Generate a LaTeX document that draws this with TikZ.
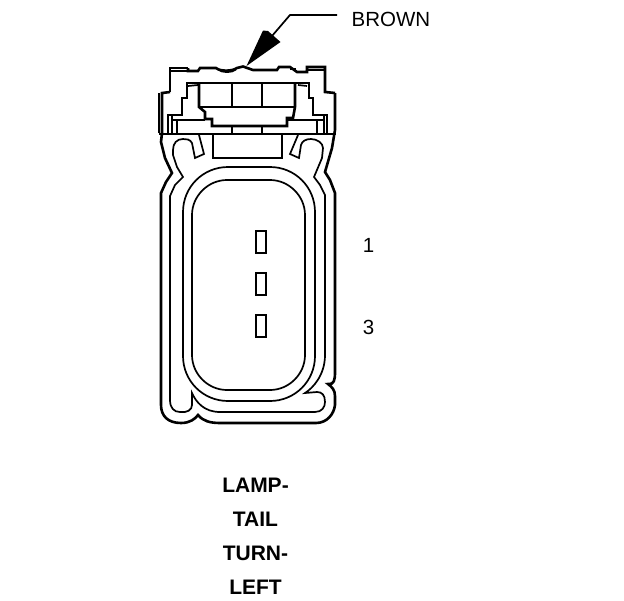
\documentclass[tikz,border=0pt]{standalone}
\usepackage{fontspec}
\setmainfont{Liberation Sans}
\tikzset{
  thinline/.style={draw=black,line width=1.7pt,line join=miter},
  heavyline/.style={draw=black,line width=2.6pt,line join=miter},
  pinbox/.style={draw=black,line width=2.6pt},
  lbl/.style={font=\fontsize{20.5}{24}\selectfont,inner sep=0pt,text=black},
  blbl/.style={font=\fontsize{21}{24}\selectfont\bfseries,inner sep=0pt,text=black}
}
\begin{document}
\begin{tikzpicture}[x=1pt,y=-1pt]
\useasboundingbox (0,0) rectangle (624,600);
\fill[white] (0,0) rectangle (624,600);
% labels
\node[lbl,anchor=center] (brown) at (391,19.5) {BROWN};
\node[lbl] (n1) at (368.5,245.5) {1};
\node[lbl] (n3) at (368.5,327.5) {3};
\node[blbl] (t1) at (255.5,485) {LAMP-};
\node[blbl] (t2) at (255.5,519) {TAIL};
\node[blbl] (t3) at (255.5,553) {TURN-};
\node[blbl] (t4) at (255.5,587) {LEFT};
% leader and arrowhead
\coordinate (lstart) at (337,15);
\coordinate (lbend) at (290,15);
\coordinate (lend) at (272,36);
\draw[thinline] (lstart) -- (lbend) -- (lend);
\fill[black] (246.5,66) -- (263,30.5) -- (268,31) -- (280.5,42) -- cycle;
% top housing outline
\draw[heavyline] (159,133) -- (159,93);
\draw[heavyline] (170,92) -- (162,93) -- (162,133);
\draw[heavyline] (170,92) -- (170,68) -- (188,68);
\draw[thinline] (170,71) -- (188,71);
\draw[heavyline] (188,68) -- (188,71) -- (198,71) -- (200,68) -- (216,68)
  .. controls (220,71.5) and (232,71.5) .. (237,68) -- (243,66.5) -- (253,70)
  -- (277,70) -- (279,67) -- (290,67) -- (297,72) -- (307,72) -- (307,67) -- (325,67) -- (325,92) -- (335,93);
\draw[thinline] (218,69.5) .. controls (222,73) and (232,73) .. (236,69.5);
\draw[thinline] (256,70.5) -- (275,70.5);
\draw[thinline] (290,69) -- (296,69);
\draw[thinline] (307,70) -- (325,70);
% inner stepped housing
\draw[heavyline] (168,134) -- (168,115) -- (182,115) -- (182,98) -- (187,98) -- (187,83) -- (309,83)
  -- (309,98) -- (313,98) -- (313,115) -- (327,115) -- (327,134);
\draw[thinline] (188,86) -- (198,85);
\draw[thinline] (298,85) -- (307,86);
% plug
\draw[heavyline] (199,83) -- (199,107) -- (205,112) -- (205,119) -- (212,119) -- (212,126)
  -- (287,126) -- (287,118) -- (293,118) -- (295,107) -- (295,83);
\draw[heavyline] (199,107) -- (295,107);
\draw[thinline] (232,83) -- (232,107);
\draw[thinline] (262,83) -- (262,107);
\draw[thinline] (232,126) -- (232,134);
\draw[thinline] (262,126) -- (262,134);
% tray
\draw[heavyline] (159,134) -- (336,134);
\draw[thinline] (172,115) -- (172,134);
\draw[thinline] (177,120) -- (177,134);
\draw[thinline] (172,120) -- (205,120);
\draw[thinline] (287,120) -- (323,120);
\draw[thinline] (317,120) -- (317,134);
\draw[heavyline] (324,115) -- (324,134);
% block
\draw[heavyline] (213,134) -- (213,158) -- (282,158) -- (282,134);
% outer body
\draw[heavyline] (335,93) -- (335,130) -- (332,148) -- (325,172) -- (330,180) -- (335,193)
  -- (335,372) .. controls (335,380) and (334,385) .. (328,384)
  .. controls (332,387) and (335,390) .. (335,396) -- (335,405)
  .. controls (334,414) and (327,423) .. (316,423) -- (220,423)
  .. controls (210,423) and (203,421) .. (198,415)
  .. controls (195,419) and (190,423) .. (181,423)
  .. controls (168,423) and (161,416) .. (161,405) -- (161,193) -- (166,182) -- (172,173) -- (165,158) -- (161,142) -- (162,133);
% third contour with hooks
\draw[thinline] (199,135) -- (204,154) -- (195,158) -- (192,143)
  .. controls (190,139) and (186,139) .. (183,139)
  .. controls (177,139) and (173,143) .. (173,150)
  -- (173,155) -- (177,167) -- (183,177) -- (175,185) -- (170,196) -- (170,400)
  .. controls (170,408) and (174,412) .. (180,412)
  .. controls (187,413) and (192,410) .. (192,405) -- (192,393)
  .. controls (196,402) and (204,412) .. (220,412) -- (315,412)
  .. controls (322,412) and (325,407) .. (325,402)
  .. controls (325,395) and (322,392) .. (317,392) -- (305,393)
  .. controls (313,388) and (325,375) .. (325,355) -- (325,195) -- (320,185) -- (314,177) -- (322,158) -- (323,148)
  .. controls (323,143) and (317,139) .. (311,139)
  .. controls (306,139) and (302,141) .. (301,145) -- (299,158) -- (290,154) -- (298,135);
% rings
\draw[thinline] (228,167) -- (270,167) .. controls (295,167) and (315,187) .. (315,212) -- (315,356)
  .. controls (315,381) and (295,401) .. (270,401) -- (228,401)
  .. controls (203,401) and (183,381) .. (183,356) -- (183,212)
  .. controls (183,187) and (203,167) .. (228,167) -- cycle;
\draw[thinline] (227,180) -- (270,180) .. controls (289,180) and (305,196) .. (305,215) -- (305,355)
  .. controls (305,374) and (289,390) .. (270,390) -- (227,390)
  .. controls (208,390) and (192,374) .. (192,355) -- (192,215)
  .. controls (192,196) and (208,180) .. (227,180) -- cycle;
% pins
\draw[pinbox] (256,231) rectangle (266,253);
\draw[pinbox] (256,273) rectangle (266,295);
\draw[pinbox] (256,315) rectangle (266,337);
\end{tikzpicture}
\end{document}
